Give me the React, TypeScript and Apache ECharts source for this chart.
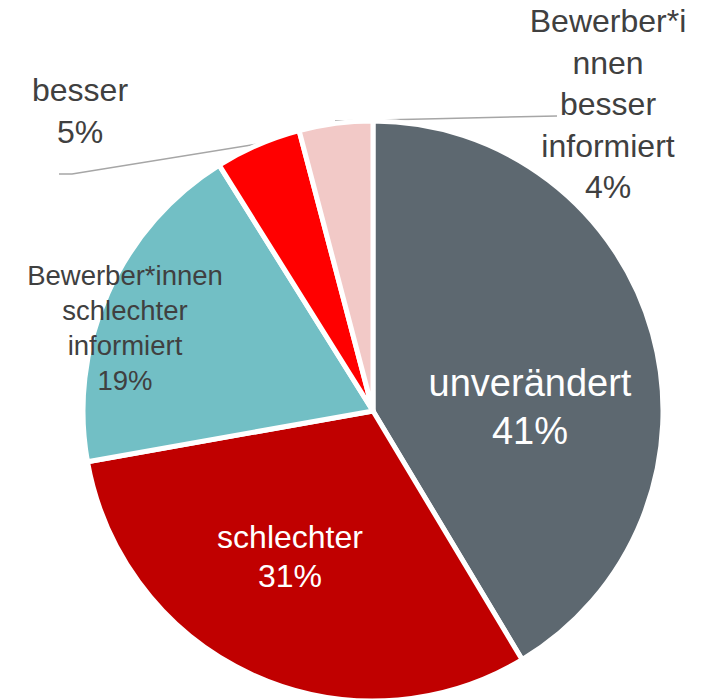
import React, { useEffect, useRef } from "react";
import * as echarts from "echarts";

const categories = [
  "unverändert",
  "schlechter",
  "Bewerber*innen\nschlechter\ninformiert",
  "besser",
  "Bewerber*i\nnnen\nbesser\ninformiert",
];
const values = [41.4, 30.8, 18.9, 4.8, 4.1];
const colors = ["#5d6870", "#c00000", "#72bfc5", "#ff0000", "#f2c9c7"];

const labelStyles = [
  { color: "#ffffff", fontSize: 38, lineHeight: 48 },
  { color: "#ffffff", fontSize: 32, lineHeight: 39 },
  { color: "#404040", fontSize: 27.5, lineHeight: 35 },
  { color: "#404040", fontSize: 32, lineHeight: 42 },
  { color: "#404040", fontSize: 32, lineHeight: 41.5 },
];

const labelLayouts = [
  { x: 530, y: 407 },
  { x: 290, y: 556 },
  { x: 125, y: 328 },
  { x: 80, y: 111, line: [[257, 144], [72, 174], [59, 174]] },
  { x: 608, y: 104, line: [[335, 121], [446, 118.5], [557, 116]] },
];

export default function App() {
  const ref = useRef<HTMLDivElement>(null);
  useEffect(() => {
    document.body.style.margin = "0";
    if (!ref.current) return;
    const chart = echarts.init(ref.current, null, { renderer: "svg" });
    chart.setOption({
      animation: false,
      textStyle: { fontFamily: "Liberation Sans" },
      series: [
        {
          type: "pie",
          center: [373, 411],
          radius: 290,
          startAngle: 90,
          clockwise: true,
          avoidLabelOverlap: false,
          itemStyle: { borderColor: "#ffffff", borderWidth: 5 },
          emphasis: { disabled: true },
          labelLine: {
            show: true,
            lineStyle: { color: "#a6a6a6", width: 1.5 },
            smooth: false,
            maxSurfaceAngle: 180,
          },
          labelLayout: (p: any) => {
            const l = labelLayouts[p.dataIndex];
            const r: any = { x: l.x, y: l.y, align: "center", verticalAlign: "middle" };
            if (l.line) r.labelLinePoints = l.line;
            return r;
          },
          data: categories.map((name, i) => ({
            name,
            value: values[i],
            itemStyle: { color: colors[i] },
            label: {
              show: true,
              position: i >= 3 ? "outside" : "inside",
              formatter: (p: any) => `${p.name}\n${Math.round(p.value)}%`,
              align: "center",
              fontFamily: "Liberation Sans",
              ...labelStyles[i],
            },
            labelLine: { show: i >= 3 },
          })),
        },
      ],
    });
    return () => chart.dispose();
  }, []);
  return <div ref={ref} style={{ width: 714, height: 700 }} />;
}
